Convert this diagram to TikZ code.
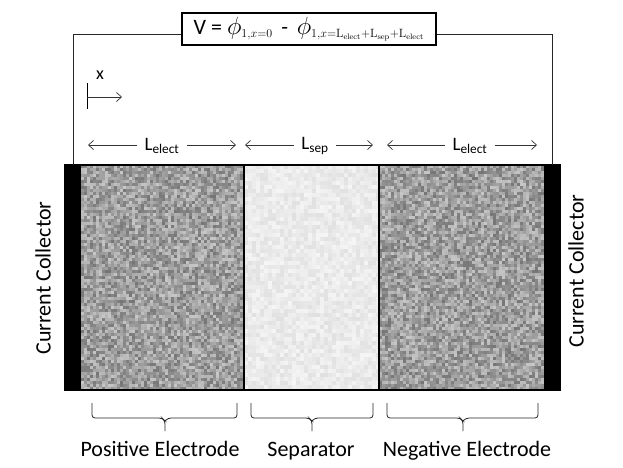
\documentclass[tikz,border=0pt]{standalone}
\usepackage[no-math]{fontspec}
\setmainfont{Carlito}
\DeclareMathSizes{24}{24}{13}{8}
\usetikzlibrary{arrows.meta}
\newcommand\phisize{\fontsize{24}{28}\selectfont}
\begin{document}
\begin{tikzpicture}[x=1pt,y=-1pt,
  lbl/.style={font=\fontsize{22}{26}\selectfont, inner sep=0pt},
  dimlbl/.style={font=\fontsize{19}{22}\selectfont, inner xsep=7pt, inner ysep=1pt, fill=white},
  dimarrow/.style={draw=black!80, line width=0.7pt, -{Straight Barb[length=5pt,width=9pt]}},
  wire/.style={draw=black!85, line width=0.9pt},
  brc/.style={draw=black!85, line width=0.8pt, rounded corners=3pt}]
\useasboundingbox (0,0) rectangle (623,467);
\fill[white] (0,0) rectangle (623,467);

% electrodes textures
\pgfmathsetseed{7}
\foreach \i in {0,...,54}{
  \foreach \j in {0,...,75}{
    \pgfmathsetmacro\sh{22+32*rnd}
    \fill[black!\sh] (81+3*\i,165+3*\j) rectangle ++(3,3);
  }
}
\foreach \i in {0,...,55}{
  \foreach \j in {0,...,75}{
    \pgfmathsetmacro\sh{22+32*rnd}
    \fill[black!\sh] (379+3*\i,165+3*\j) rectangle ++(3,3);
  }
}
\foreach \i in {0,...,33}{
  \foreach \j in {0,...,56}{
    \pgfmathsetmacro\sh{4+8*rnd}
    \fill[black!\sh] (244+4*\i,165+4*\j) rectangle ++(4,4);
  }
}
\fill[white] (0,390) rectangle (623,400);
% collectors
\fill[black] (65,165) rectangle (81,390);
\fill[black] (544,165) rectangle (560,390);
% outlines
\draw[line width=1.4pt] (65,165) rectangle (560,390);
\draw[line width=1.4pt] (244,165) -- (244,390);
\draw[line width=1.4pt] (379,165) -- (379,390);

% formula box
\node[draw, line width=1.2pt, minimum width=254pt, minimum height=32pt, inner sep=0pt,
  font=\fontsize{22}{26}\selectfont] (vbox) at (309,29)
  {V =\ {\phisize$\phi_{1,x=0}$}\ \,-\ \,{\phisize$\phi_{1,x=\mathrm{L}_{\mathrm{elect}}+\mathrm{L}_{\mathrm{sep}}+\mathrm{L}_{\mathrm{elect}}}$}};
\coordinate (wl) at (73,165);
\coordinate (wr) at (552,165);
\draw[wire] (vbox.west |- 0,34) -| (wl);
\draw[wire] (vbox.east |- 0,34) -| (wr);

% x axis
\coordinate (xt1) at (87,83);
\coordinate (xt2) at (87,109);
\coordinate (xo) at (87,97);
\coordinate (xe) at (122,97);
\draw[line width=0.8pt] (xt1) -- (xt2);
\draw[dimarrow] (xo) -- (xe);
\node[font=\fontsize{18}{20}\selectfont, inner sep=0pt] (xl) at (100,75) {x};

% dimension arrows
\node[dimlbl] (d1) at (162,146) {L\textsubscript{elect}};
\node[dimlbl] (d2) at (315,146) {L\textsubscript{sep}};
\node[dimlbl] (d3) at (470,146) {L\textsubscript{elect}};
\coordinate (a1l) at (88,145); \coordinate (a1r) at (236,145);
\coordinate (a2l) at (245,145); \coordinate (a2r) at (373,145);
\coordinate (a3l) at (387,145); \coordinate (a3r) at (537,145);
\draw[dimarrow] (d1.west |- a1l) -- (a1l);
\draw[dimarrow] (d1.east |- a1r) -- (a1r);
\draw[dimarrow] (d2.west |- a2l) -- (a2l);
\draw[dimarrow] (d2.east |- a2r) -- (a2r);
\draw[dimarrow] (d3.west |- a3l) -- (a3l);
\draw[dimarrow] (d3.east |- a3r) -- (a3r);

% braces
\draw[brc] (92,403) -- (92,418) -- (162,418) -- (165,421) -- (165,431);
\draw[brc] (237,403) -- (237,418) -- (168,418) -- (165,421);
\draw[brc] (251,403) -- (251,418) -- (309,418) -- (312,421) -- (312,431);
\draw[brc] (373,403) -- (373,418) -- (315,418) -- (312,421);
\draw[brc] (387,403) -- (387,418) -- (460,418) -- (463,421) -- (463,431);
\draw[brc] (538,403) -- (538,418) -- (466,418) -- (463,421);

% labels
\node[lbl, anchor=base] (pe) at (160,456) {Positive Electrode};
\node[lbl, anchor=base] (se) at (311,456) {Separator};
\node[lbl, anchor=base] (ne) at (467,456) {Negative Electrode};
\node[lbl, rotate=90] (ccl) at (43,278) {Current Collector};
\node[lbl, rotate=90] (ccr) at (576,271) {Current Collector};
\end{tikzpicture}
\end{document}
